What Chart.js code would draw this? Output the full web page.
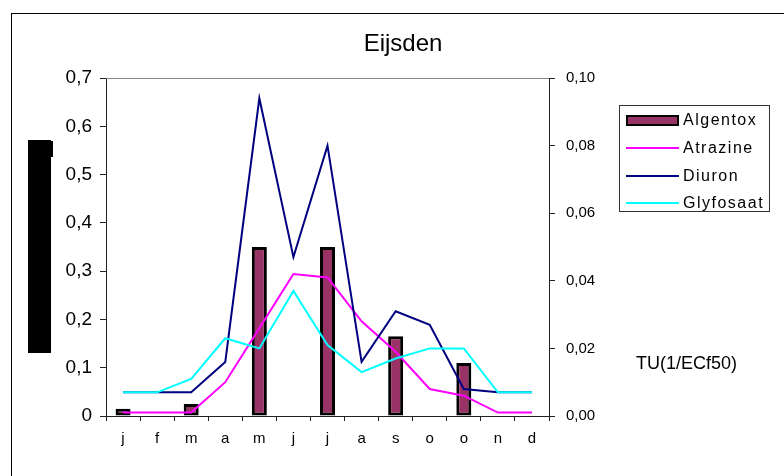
<!DOCTYPE html>
<html>
<head>
<meta charset="utf-8">
<script src="https://cdn.jsdelivr.net/npm/chart.js@4/dist/chart.umd.min.js"></script>
<style>
  html, body { margin: 0; padding: 0; background: #fff; }
  #wrap { width: 784px; height: 476px; position: relative; }
</style>
</head>
<body>
<div id="wrap"><canvas id="c" width="784" height="476"></canvas></div>
<script>
// Monthly toxic units, Eijsden
const months = ['j', 'f', 'm', 'a', 'm', 'j', 'j', 'a', 's', 'o', 'o', 'n', 'd'];
const algentox  = [0.015, null, 0.025, null, 0.35, null, 0.35, null, 0.165, null, 0.11, null, null];
const atrazine  = [0.001, 0.001, 0.001, 0.010, 0.026, 0.042, 0.041, 0.028, 0.019, 0.008, 0.006, 0.001, 0.001];
const diuron    = [0.007, 0.007, 0.007, 0.016, 0.094, 0.047, 0.080, 0.016, 0.031, 0.027, 0.008, 0.007, 0.007];
const glyfosaat = [0.007, 0.007, 0.011, 0.023, 0.020, 0.037, 0.021, 0.013, 0.017, 0.020, 0.020, 0.007, 0.007];
const leftTickLabels  = ['0', '0,1', '0,2', '0,3', '0,4', '0,5', '0,6', '0,7'];
const rightTickLabels = ['0,00', '0,02', '0,04', '0,06', '0,08', '0,10'];

const FONT = '"Liberation Sans", Arial, sans-serif';
const AXIS = '#222';

const decorations = {
  id: 'decorations',
  beforeDraw(chart) {
    const ctx = chart.ctx;
    ctx.save();
    ctx.fillStyle = '#fff';
    ctx.fillRect(0, 0, chart.width, chart.height);
    // outer frame
    ctx.strokeStyle = '#000';
    ctx.lineWidth = 1;
    ctx.strokeRect(11.5, 13.5, chart.width + 20, chart.height + 20);
    ctx.restore();
  },
  afterDraw(chart) {
    const ctx = chart.ctx;
    const a = chart.chartArea;
    ctx.save();
    // top edge of the plot area
    ctx.strokeStyle = '#888';
    ctx.lineWidth = 1;
    ctx.beginPath();
    ctx.moveTo(a.left, Math.round(a.top) + 0.5);
    ctx.lineTo(a.right, Math.round(a.top) + 0.5);
    ctx.stroke();

    // title
    ctx.fillStyle = '#000';
    ctx.font = '24px ' + FONT;
    ctx.textAlign = 'center';
    ctx.textBaseline = 'alphabetic';
    ctx.fillText('Eijsden', 403, 51);

    // left axis title block
    ctx.fillStyle = '#000';
    ctx.fillRect(28, 140, 23, 213);
    ctx.fillRect(49, 141, 4, 16);

    // right axis title
    ctx.font = '18px ' + FONT;
    ctx.textAlign = 'left';
    ctx.fillText('TU(1/ECf50)', 636, 369);

    // legend
    const bx = 619.5, by = 105.5, bw = 150, bh = 106;
    ctx.strokeStyle = '#333';
    ctx.lineWidth = 1;
    ctx.strokeRect(bx, by, bw, bh);
    const rows = [120, 148, 176, 203];
    ctx.font = '16px ' + FONT;
    ctx.textBaseline = 'middle';
    if ('letterSpacing' in ctx) ctx.letterSpacing = '1.5px';
    chart.data.datasets.forEach((ds, i) => {
      const y = rows[i];
      if (ds.type === 'line') {
        ctx.strokeStyle = ds.borderColor;
        ctx.lineWidth = 2;
        ctx.beginPath();
        ctx.moveTo(626, y);
        ctx.lineTo(679, y);
        ctx.stroke();
      } else {
        ctx.fillStyle = ds.backgroundColor;
        ctx.fillRect(627, y - 4, 51, 9);
        ctx.strokeStyle = '#000';
        ctx.lineWidth = 2;
        ctx.strokeRect(627, y - 4, 51, 9);
      }
      ctx.fillStyle = '#000';
      ctx.fillText(ds.label, 683, y + 1);
    });
    ctx.restore();
  }
};

new Chart(document.getElementById('c'), {
  type: 'bar',
  data: {
    labels: months,
    datasets: [
      {
        label: 'Algentox', data: algentox, yAxisID: 'yL', order: 4,
        backgroundColor: '#993366', borderColor: '#000', borderWidth: 3,
        borderSkipped: false, categoryPercentage: 1, barPercentage: 0.44
      },
      {
        type: 'line', label: 'Atrazine', data: atrazine, yAxisID: 'yR', order: 3,
        borderColor: '#ff00ff', borderWidth: 2, pointRadius: 0, tension: 0, fill: false
      },
      {
        type: 'line', label: 'Diuron', data: diuron, yAxisID: 'yR', order: 2,
        borderColor: '#000080', borderWidth: 2, pointRadius: 0, tension: 0, fill: false
      },
      {
        type: 'line', label: 'Glyfosaat', data: glyfosaat, yAxisID: 'yR', order: 1,
        borderColor: '#00ffff', borderWidth: 2, pointRadius: 0, tension: 0, fill: false
      }
    ]
  },
  options: {
    responsive: false,
    animation: false,
    layout: { padding: { top: 78, left: 0, right: 0, bottom: 0 } },
    plugins: {
      legend: { display: false },
      title: { display: false },
      tooltip: { enabled: false }
    },
    scales: {
      x: {
        offset: true,
        grid: { offset: true, drawOnChartArea: false, drawTicks: true, tickLength: 5, color: AXIS },
        border: { display: true, color: AXIS, width: 1 },
        ticks: { color: '#000', font: { family: FONT, size: 15 }, padding: 9, maxRotation: 0, autoSkip: false },
        afterFit(s) { s.height = 60; }
      },
      yL: {
        position: 'left', min: 0, max: 0.7,
        grid: { drawOnChartArea: false, drawTicks: true, tickLength: 6, color: AXIS },
        border: { display: true, color: AXIS, width: 1 },
        ticks: {
          stepSize: 0.1, color: '#000', font: { family: FONT, size: 19 }, padding: 8,
          callback: (v, i) => leftTickLabels[i]
        },
        afterFit(s) { s.width = 106; }
      },
      yR: {
        position: 'right', min: 0, max: 0.1,
        grid: { drawOnChartArea: false, drawTicks: true, tickLength: 6, color: AXIS },
        border: { display: true, color: AXIS, width: 1 },
        ticks: {
          stepSize: 0.02, color: '#000', font: { family: FONT, size: 15 }, padding: 11,
          callback: (v, i) => rightTickLabels[i]
        },
        afterFit(s) { s.width = 235; }
      }
    }
  },
  plugins: [decorations]
});
</script>
</body>
</html>
